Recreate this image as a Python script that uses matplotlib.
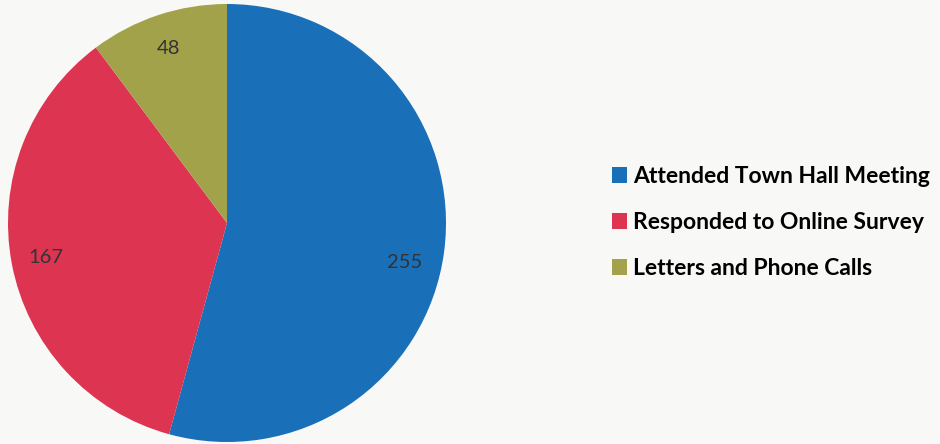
import numpy as np
import matplotlib.pyplot as plt

categories = ['Attended Town Hall Meeting', 'Responded to Online Survey', 'Letters and Phone Calls']
counts = [255, 167, 48]
colors = ['#1a6fb9', '#dc3451', '#a2a24a']

fig = plt.figure(figsize=(9.4, 4.44), dpi=100, facecolor='#f8f8f7')
W, H = 940, 444
cx, cy, r = 227, 223, 219
ax = fig.add_axes([(cx - r) / W, (H - cy - r) / H, 2 * r / W, 2 * r / H])

wedges, texts = ax.pie(counts, colors=colors, startangle=90, counterclock=False,
                       labels=[str(c) for c in counts], labeldistance=0.84,
                       wedgeprops=dict(linewidth=0),
                       textprops=dict(fontsize=14.5, color='#333333', family='Lato'))
for w, t in zip(wedges, texts):
    t.set_ha('center')
    t.set_va('center')
# the big slice's label sits a little below its bisector
ang = np.deg2rad((wedges[0].theta1 + wedges[0].theta2) / 2 - 5)
texts[0].set_position((0.83 * np.cos(ang), 0.83 * np.sin(ang)))
ax.set_aspect('equal')
ax.set_xlim(-1, 1)
ax.set_ylim(-1, 1)

fig.legend(wedges, categories, loc='center left', bbox_to_anchor=(591 / W, 1 - 222.5 / H),
           frameon=False, handlelength=0.65, handleheight=0.7, handletextpad=0.3,
           labelspacing=1.1, prop=dict(family='Lato', weight='bold', size=16.5))

fig.savefig('out.png', dpi=100, facecolor=fig.get_facecolor())
